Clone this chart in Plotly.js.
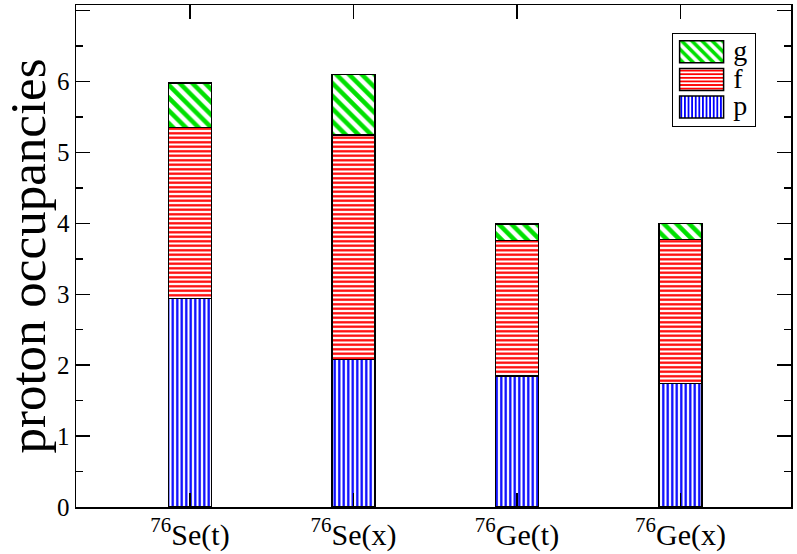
<!DOCTYPE html>
<html>
<head>
<meta charset="utf-8">
<script src="https://cdn.plot.ly/plotly-3.0.1.min.js"></script>
<style>html,body{margin:0;padding:0;background:#fff;}#chart{width:797px;height:554px;}</style>
</head>
<body>
<div id="chart"></div>
<script>
const categories = ["<sup>76</sup>Se(t)", "<sup>76</sup>Se(x)", "<sup>76</sup>Ge(t)", "<sup>76</sup>Ge(x)"];
const positions = [1, 2, 3, 4];
const pValues = [2.94, 2.08, 1.85, 1.74];
const fValues = [2.41, 3.17, 1.91, 2.03];
const gValues = [0.63, 0.85, 0.23, 0.23];
const yTicks = [0, 1, 2, 3, 4, 5, 6, 7];

const FONT = "Liberation Serif, Times New Roman, serif";
function bar(name, vals, shape, color, size) {
  return {
    type: "bar", name: name, x: positions, y: vals, width: 0.265,
    marker: {
      color: "white",
      line: {color: "black", width: 1.6},
      pattern: {shape: shape, fgcolor: color, bgcolor: "white", size: size, solidity: 0.5, fillmode: "replace"}
    },
    hoverinfo: "skip"
  };
}
const data = [
  bar("p", pValues, "|", "#0000ff", 4.5),
  bar("f", fValues, "-", "#ff0000", 4.5),
  bar("g", gValues, "\\", "#00e000", 9)
];
const layout = {
  width: 797, height: 554,
  margin: {l: 76, r: 6, t: 5, b: 47},
  paper_bgcolor: "white", plot_bgcolor: "white",
  barmode: "stack",
  showlegend: true,
  font: {family: FONT, color: "black"},
  xaxis: {
    range: [0.303, 4.676], tickvals: positions, ticktext: categories,
    ticks: "inside", ticklen: 14, tickwidth: 1.5, tickcolor: "black",
    showline: true, linecolor: "black", linewidth: 1.5, mirror: "ticks",
    showgrid: false, zeroline: false, layer: "above traces",
    tickfont: {size: 30, family: FONT}
  },
  yaxis: {
    range: [0, 7.08], tickvals: yTicks,
    ticks: "inside", ticklen: 14, tickwidth: 1.5, tickcolor: "black",
    minor: {ticks: "inside", ticklen: 7, dtick: 0.5, tickwidth: 1.5, tickcolor: "black"},
    showline: true, linecolor: "black", linewidth: 1.5, mirror: "ticks",
    showgrid: false, zeroline: false, layer: "above traces",
    tickfont: {size: 25, family: FONT},
    title: {text: "proton occupancies", font: {size: 51, family: FONT}, standoff: 3}
  },
  legend: {
    x: 0.834, y: 0.944, xanchor: "left", yanchor: "top",
    traceorder: "reversed",
    bordercolor: "black", borderwidth: 1.2, bgcolor: "white",
    font: {size: 28, family: FONT},
    itemwidth: 40
  }
};
Plotly.newPlot("chart", data, layout, {staticPlot: true}).then(function (gd) {
  // reshape the legend to the reference's compact box with wide swatches
  const leg = gd.querySelector(".legend");
  if (!leg) return;
  leg.querySelectorAll("[clip-path]").forEach(function (el) { el.removeAttribute("clip-path"); });
  const bg = leg.querySelector("rect.bg");
  if (bg) {
    bg.setAttribute("x", 0); bg.setAttribute("y", 0);
    bg.setAttribute("width", 83); bg.setAttribute("height", 93);
  }
  const items = leg.querySelectorAll("g.traces");
  const centers = [18.7, 46.5, 74];
  items.forEach(function (it, i) {
    it.setAttribute("transform", "translate(0," + centers[i] + ")");
    const path = it.querySelector(".legendpoints path");
    if (path) {
      let el = path.parentNode;
      while (el && el !== it) { el.removeAttribute("transform"); el = el.parentNode; }
      path.removeAttribute("transform");
      path.setAttribute("d", "M51.3,11H7.3V-11H51.3Z");
      path.style.strokeWidth = "1.5px";
      path.style.stroke = "black";
    }
    const txt = it.querySelector("text.legendtext");
    if (txt) {
      txt.setAttribute("x", 61);
      txt.setAttribute("y", 8);
      txt.removeAttribute("transform");
    }
  });
});
</script>
</body>
</html>
